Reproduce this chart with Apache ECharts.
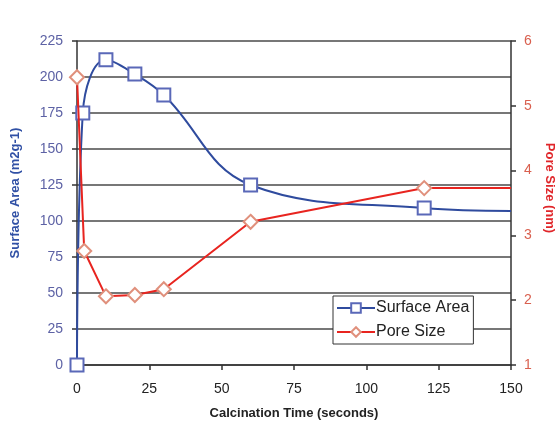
<!DOCTYPE html>
<html>
<head>
<meta charset="utf-8">
<script src="https://cdn.jsdelivr.net/npm/echarts@6/dist/echarts.min.js"></script>
<style>html,body{margin:0;padding:0;background:#fff;}#c{width:555px;height:426px;}</style>
</head>
<body>
<div id="c"></div>
<script>
var timeTicks = [0, 25, 50, 75, 100, 125, 150];
var areaTime = [0, 2, 10, 20, 30, 60, 120, 150];
var areaValue = [0, 175, 212, 202, 187.5, 125, 109, 107];
var areaMarked = [true, true, true, true, true, true, true, false];
var poreTime = [0, 2.5, 10, 20, 30, 60, 120, 150];
var poreValue = [5.44, 2.76, 2.06, 2.08, 2.17, 3.21, 3.73, 3.73];
var poreMarked = [true, true, true, true, true, true, true, false];

function build(xs, ys, marks) {
  return xs.map(function (x, i) {
    var d = { value: [x, ys[i]] };
    if (!marks[i]) d.symbol = 'none';
    return d;
  });
}

var font = 'Liberation Sans, Arial, sans-serif';
var chart = echarts.init(document.getElementById('c'));
chart.setOption({
  backgroundColor: '#fff',
  animation: false,
  grid: { left: 77, right: 44, top: 41, bottom: 61, outerBoundsMode: 'none', containLabel: false },
  legend: {
    orient: 'vertical',
    left: 333, top: 296,
    backgroundColor: '#fff',
    borderColor: '#333', borderWidth: 1,
    padding: [4, 4, 4, 3],
    itemGap: 8,
    itemWidth: 38, itemHeight: 12,
    textStyle: { fontFamily: font, fontSize: 16, color: '#222', padding: [0, 0, 0, -4] },
    data: ['Surface Area', 'Pore Size']
  },
  xAxis: {
    type: 'value', min: 0, max: 150, interval: 25,
    name: 'Calcination Time (seconds)', nameLocation: 'middle', nameGap: 42,
    nameTextStyle: { fontFamily: font, fontSize: 13, fontWeight: 'bold', color: '#222' },
    axisLine: { show: true, onZero: false, lineStyle: { color: '#333', width: 1.5 } },
    axisTick: { show: true, length: 5, lineStyle: { color: '#333', width: 1.5 } },
    axisLabel: { fontFamily: font, fontSize: 14, color: '#222', margin: 17,
      formatter: function (v) { return timeTicks.indexOf(v) >= 0 ? String(v) : ''; } },
    splitLine: { show: false }
  },
  yAxis: [
    {
      type: 'value', min: 0, max: 225, interval: 25, position: 'left',
      name: 'Surface Area (m2g-1)', nameLocation: 'middle', nameGap: 55, nameRotate: 90,
      nameTextStyle: { fontFamily: font, fontSize: 13, fontWeight: 'bold', color: '#3050a5', padding: [0, 0, 0, 20] },
      axisLine: { show: true, lineStyle: { color: '#333', width: 1.5 } },
      axisTick: { show: true, length: 5, lineStyle: { color: '#333', width: 1.5 } },
      axisLabel: { fontFamily: font, fontSize: 14, color: '#5d62a5', margin: 14 },
      splitLine: { show: true, lineStyle: { color: '#4a4a4a', width: 1.5 } }
    },
    {
      type: 'value', min: 1, max: 6, interval: 1, position: 'right',
      name: 'Pore Size (nm)', nameLocation: 'middle', nameGap: 28, nameRotate: -90,
      nameTextStyle: { fontFamily: font, fontSize: 13, fontWeight: 'bold', color: '#e0262a', padding: [0, 30, 0, 0] },
      axisLine: { show: true, lineStyle: { color: '#333', width: 1.5 } },
      axisTick: { show: true, length: 5, lineStyle: { color: '#333', width: 1.5 } },
      axisLabel: { fontFamily: font, fontSize: 14, color: '#d9604f', margin: 13 },
      splitLine: { show: false }
    }
  ],
  series: [
    {
      name: 'Surface Area', type: 'line', yAxisIndex: 0,
      smooth: 0.4,
      symbol: 'emptyRect', symbolSize: 13,
      lineStyle: { color: '#2f4b9e', width: 2 },
      itemStyle: { color: '#5a68b8', borderWidth: 1.5 },
      data: build(areaTime, areaValue, areaMarked),
      z: 3
    },
    {
      name: 'Pore Size', type: 'line', yAxisIndex: 1,
      symbol: 'emptyDiamond', symbolSize: 14,
      lineStyle: { color: '#e8241f', width: 2 },
      itemStyle: { color: '#e0907c', borderWidth: 1.5 },
      data: build(poreTime, poreValue, poreMarked),
      z: 4
    }
  ]
});
</script>
</body>
</html>
